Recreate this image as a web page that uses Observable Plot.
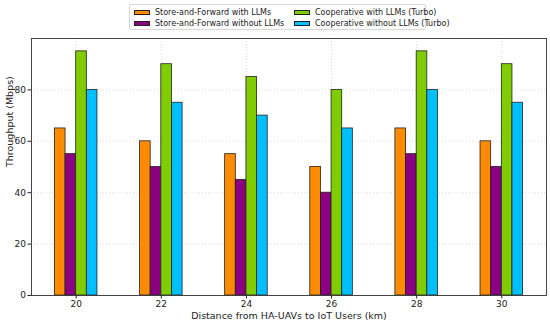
<!DOCTYPE html>
<html>
<head>
<meta charset="utf-8">
<script src="https://cdn.jsdelivr.net/npm/d3@7"></script>
<script src="https://cdn.jsdelivr.net/npm/@observablehq/plot@0.6"></script>
<style>
  html, body { margin: 0; padding: 0; background: #fff; }
  #wrap { position: relative; width: 550px; height: 324px; font-family: "DejaVu Sans", sans-serif; }
  #legend { position: absolute; left: 129px; top: 4px; width: 297px; height: 26px; border: 1px solid #d8d8d8; border-radius: 2px; box-sizing: border-box; font-size: 8px; color: #222; background: #fff; }
  .item { position: absolute; display: flex; align-items: center; white-space: nowrap; }
  .sw { width: 16px; height: 5px; border: 0.8px solid #222; margin-right: 5px; box-sizing: border-box; }
  svg { position: absolute; left: 0; top: 0; }
</style>
</head>
<body>
<div id="wrap"><div id="legend"></div></div>
<script>
// Data
const distances = [20, 22, 24, 26, 28, 30];
const seriesNames = [
  "Store-and-Forward with LLMs",
  "Store-and-Forward without LLMs",
  "Cooperative with LLMs (Turbo)",
  "Cooperative without LLMs (Turbo)"
];
const sfWithLLMs     = [65, 60, 55, 50, 65, 60];
const sfWithoutLLMs  = [55, 50, 45, 40, 55, 50];
const coopWithLLMs   = [95, 90, 85, 80, 95, 90];
const coopWithoutLLMs= [80, 75, 70, 65, 80, 75];
const yTicks = [0, 20, 40, 60, 80];
const colors = ["#FF8C00", "#8B0083", "#7FCC00", "#00BFFF"];

const seriesValues = [sfWithLLMs, sfWithoutLLMs, coopWithLLMs, coopWithoutLLMs];
const barWidth = 0.25;
const rows = [];
seriesValues.forEach((vals, si) => {
  vals.forEach((v, i) => {
    const center = distances[i] + (si - 1.5) * barWidth;
    rows.push({series: seriesNames[si], si, x1: center - barWidth / 2, x2: center + barWidth / 2, value: v});
  });
});

const chart = Plot.plot({
  width: 550,
  height: 324,
  marginTop: 38,
  marginBottom: 29,
  marginLeft: 31,
  marginRight: 4,
  style: {fontFamily: "DejaVu Sans, sans-serif", fontSize: "9px", color: "#222", background: "transparent"},
  x: {domain: [18.95, 31.05], label: null},
  y: {domain: [0, 100], label: null},
  color: {domain: seriesNames, range: colors},
  marks: [
    Plot.gridX(distances, {stroke: "#aaa", strokeOpacity: 0.7, strokeDasharray: "1,2", strokeWidth: 0.6}),
    Plot.gridY(yTicks, {stroke: "#aaa", strokeOpacity: 0.7, strokeDasharray: "1,2", strokeWidth: 0.6}),
    Plot.rectY(rows, {x1: "x1", x2: "x2", y1: 0, y2: "value", fill: "series", stroke: "#222", strokeWidth: 0.8}),
    Plot.axisX(distances, {tickSize: 3.5, tickPadding: 1.5, tickFormat: d => String(d), fontSize: 9}),
    Plot.axisY(yTicks, {tickSize: 3.5, tickPadding: 2, fontSize: 9}),
    Plot.frame({stroke: "#333", strokeWidth: 0.9}),
    Plot.text(["Distance from HA-UAVs to IoT Users (km)"], {frameAnchor: "bottom", dy: 23, fontSize: 9.5, fill: "#222"}),
    Plot.text(["Throughput (Mbps)"], {frameAnchor: "left", dx: -22, rotate: -90, fontSize: 9.5, fill: "#222"})
  ]
});
document.getElementById("wrap").appendChild(chart);

// Legend (HTML above the plot)
const legend = document.getElementById("legend");
const pos = [[4, 3], [4, 14], [164, 3], [164, 14]];
seriesNames.forEach((name, i) => {
  const item = document.createElement("div");
  item.className = "item";
  item.style.left = pos[i][0] + "px";
  item.style.top = pos[i][1] + "px";
  const sw = document.createElement("div");
  sw.className = "sw";
  sw.style.background = colors[i];
  const t = document.createElement("span");
  t.textContent = name;
  item.appendChild(sw);
  item.appendChild(t);
  legend.appendChild(item);
});
</script>
</body>
</html>
